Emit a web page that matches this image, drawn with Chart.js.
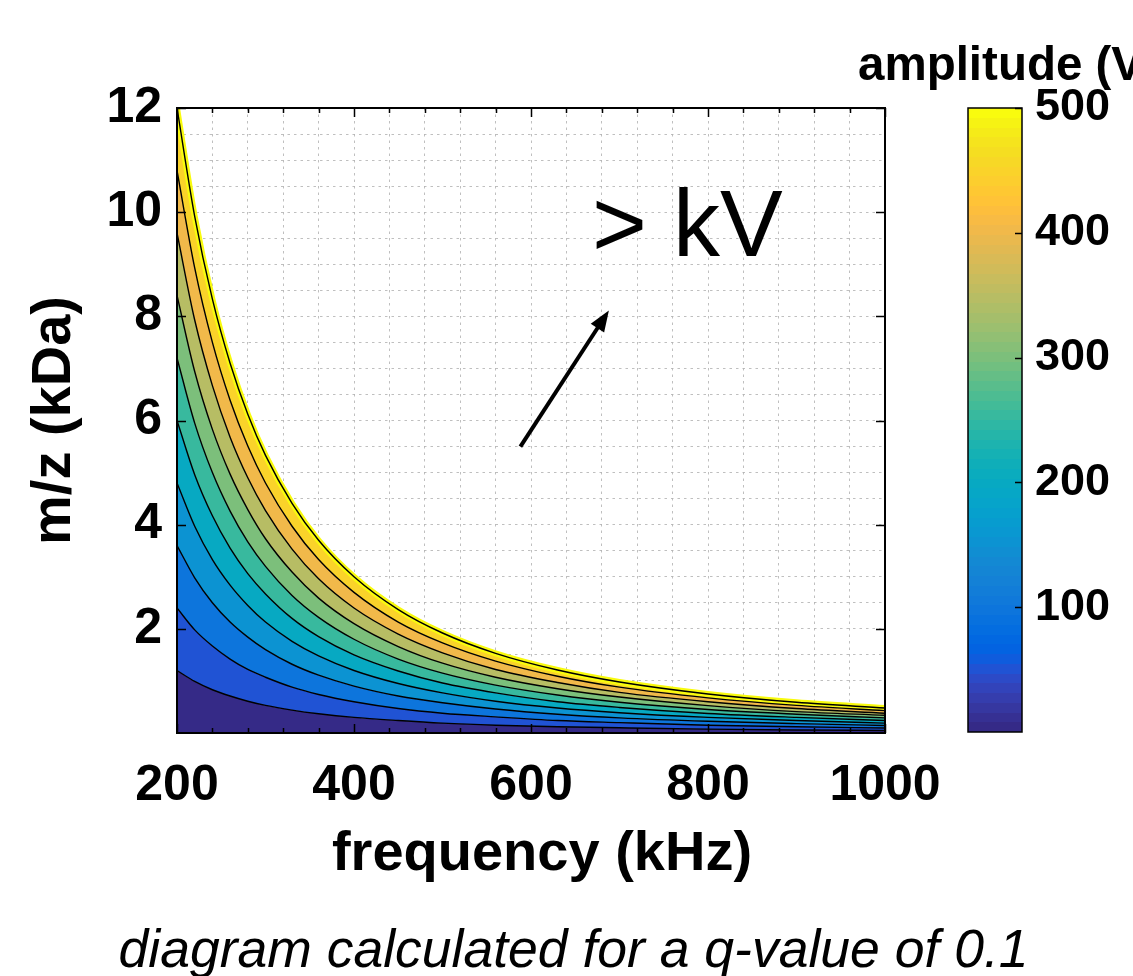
<!DOCTYPE html>
<html><head><meta charset="utf-8">
<script src="https://cdn.jsdelivr.net/npm/chart.js@4.4.1/dist/chart.umd.min.js"></script>
<style>
html,body{margin:0;padding:0;background:#fff;}
#wrap{position:relative;width:1133px;height:976px;overflow:hidden;background:#fff;}
#main{position:absolute;left:0;top:0;}
#cbar{position:absolute;left:840px;top:0;}
</style></head><body>
<div id="wrap"><canvas id="main" width="1133" height="976"></canvas><canvas id="cbar" width="293" height="976"></canvas></div>
<script>
// ---------------- data ----------------
const frequencies = [200, 220, 240, 260, 280, 300, 330, 360, 400, 450, 500, 560, 630, 700, 800, 900, 1000]; // kHz
const contourLevels = [50, 100, 150, 200, 250, 300, 350, 400, 450, 500]; // V
const mz50V  = [1.20, 0.99, 0.83, 0.71, 0.61, 0.53, 0.44, 0.37, 0.30, 0.24, 0.19, 0.15, 0.12, 0.10, 0.075, 0.059, 0.048];
const mz100V = [2.40, 1.98, 1.67, 1.42, 1.22, 1.07, 0.88, 0.74, 0.60, 0.47, 0.38, 0.31, 0.24, 0.20, 0.15, 0.12, 0.096];
const mz150V = [3.60, 2.98, 2.50, 2.13, 1.84, 1.60, 1.32, 1.11, 0.90, 0.71, 0.58, 0.46, 0.36, 0.29, 0.225, 0.18, 0.144];
const mz200V = [4.80, 3.97, 3.33, 2.84, 2.45, 2.13, 1.76, 1.48, 1.20, 0.95, 0.77, 0.61, 0.48, 0.39, 0.30, 0.24, 0.19];
const mz250V = [6.00, 4.96, 4.17, 3.55, 3.06, 2.67, 2.20, 1.85, 1.50, 1.19, 0.96, 0.77, 0.60, 0.49, 0.375, 0.30, 0.24];
const mz300V = [7.20, 5.95, 5.00, 4.26, 3.67, 3.20, 2.64, 2.22, 1.80, 1.42, 1.15, 0.92, 0.73, 0.59, 0.45, 0.36, 0.29];
const mz350V = [8.40, 6.94, 5.83, 4.97, 4.29, 3.73, 3.09, 2.59, 2.10, 1.66, 1.34, 1.07, 0.85, 0.69, 0.525, 0.41, 0.34];
const mz400V = [9.60, 7.93, 6.67, 5.68, 4.90, 4.27, 3.53, 2.96, 2.40, 1.90, 1.54, 1.22, 0.97, 0.78, 0.60, 0.47, 0.38];
const mz450V = [10.80, 8.93, 7.50, 6.39, 5.51, 4.80, 3.97, 3.33, 2.70, 2.13, 1.73, 1.38, 1.09, 0.88, 0.675, 0.53, 0.43];
const mz500V = [12.00, 9.92, 8.33, 7.10, 6.12, 5.33, 4.41, 3.70, 3.00, 2.37, 1.92, 1.53, 1.21, 0.98, 0.75, 0.59, 0.48];
const contourLines = [mz50V, mz100V, mz150V, mz200V, mz250V, mz300V, mz350V, mz400V, mz450V, mz500V];

const xTickLabels = [200, 400, 600, 800, 1000];
const yTickLabels = [2, 4, 6, 8, 10, 12];
const colorbarRange = [0, 500];
const colorbarTicks = [100, 200, 300, 400, 500];

const xTitle = 'frequency (kHz)';
const yTitle = 'm/z (kDa)';
const colorbarTitle = 'amplitude (V';
const noteText = '> kV';
const captionText = 'diagram calculated for a q-value of 0.1';

// annotation placement in data coordinates
const noteAt = {x: 669, y: 9.15};
const arrowFrom = {x: 588, y: 5.50};
const arrowTo = {x: 688, y: 8.11};

// ---------------- styles ----------------
const parula = [
[0.2081,0.1663,0.5292],[0.2116,0.1898,0.5777],[0.2123,0.2138,0.6270],[0.2081,0.2386,0.6771],
[0.1959,0.2645,0.7279],[0.1707,0.2919,0.7792],[0.1253,0.3242,0.8303],[0.0591,0.3598,0.8683],
[0.0117,0.3875,0.8820],[0.0060,0.4086,0.8828],[0.0165,0.4266,0.8786],[0.0329,0.4430,0.8720],
[0.0498,0.4586,0.8641],[0.0629,0.4737,0.8554],[0.0723,0.4887,0.8467],[0.0779,0.5040,0.8384],
[0.0793,0.5200,0.8312],[0.0749,0.5375,0.8263],[0.0641,0.5570,0.8240],[0.0488,0.5772,0.8228],
[0.0343,0.5966,0.8199],[0.0265,0.6137,0.8135],[0.0239,0.6287,0.8038],[0.0231,0.6418,0.7913],
[0.0228,0.6535,0.7768],[0.0267,0.6642,0.7607],[0.0384,0.6743,0.7436],[0.0590,0.6838,0.7254],
[0.0843,0.6928,0.7062],[0.1133,0.7015,0.6859],[0.1453,0.7098,0.6646],[0.1801,0.7177,0.6424],
[0.2178,0.7250,0.6193],[0.2586,0.7317,0.5954],[0.3022,0.7376,0.5712],[0.3482,0.7424,0.5473],
[0.3953,0.7459,0.5244],[0.4420,0.7481,0.5033],[0.4871,0.7491,0.4840],[0.5300,0.7491,0.4661],
[0.5709,0.7485,0.4494],[0.6099,0.7473,0.4337],[0.6473,0.7456,0.4188],[0.6834,0.7435,0.4044],
[0.7184,0.7411,0.3905],[0.7525,0.7384,0.3768],[0.7858,0.7356,0.3633],[0.8185,0.7327,0.3498],
[0.8507,0.7299,0.3360],[0.8824,0.7274,0.3217],[0.9139,0.7258,0.3063],[0.9450,0.7261,0.2886],
[0.9739,0.7314,0.2666],[0.9938,0.7455,0.2403],[0.9990,0.7653,0.2164],[0.9955,0.7861,0.1967],
[0.9880,0.8066,0.1794],[0.9789,0.8271,0.1633],[0.9697,0.8481,0.1475],[0.9626,0.8705,0.1309],
[0.9589,0.8949,0.1132],[0.9598,0.9218,0.0948],[0.9661,0.9514,0.0755],[0.9763,0.9831,0.0538]];
const rgb = c => `rgb(${Math.round(c[0]*255)},${Math.round(c[1]*255)},${Math.round(c[2]*255)})`;
const colorFor = v => {
  const t = (v - colorbarRange[0]) / (colorbarRange[1] - colorbarRange[0]);
  const i = Math.max(0, Math.min(parula.length - 1, Math.floor(t * parula.length)));
  return rgb(parula[i]);
};
const FONT = "'Liberation Sans', Arial, Helvetica, sans-serif";
const GRID = 'rgba(180,180,180,0.85)';

// ---------------- main contour chart ----------------
const bandDatasets = contourLines.map((arr, k) => ({
  data: frequencies.map((f, i) => ({x: f, y: arr[i]})),
  borderColor: '#000',
  borderWidth: 1.4,
  backgroundColor: colorFor(k === 0 ? 0 : contourLevels[k - 1]),
  fill: k === 0 ? 'origin' : '-1',
  pointRadius: 0,
  cubicInterpolationMode: 'monotone',
  clip: 0,
  order: 0
}));
// thin saturated edge just past the top contour
bandDatasets.push({
  data: frequencies.map((f, i) => ({x: f, y: mz500V[i]})),
  borderColor: rgb(parula[parula.length - 1]),
  borderWidth: 6,
  fill: false,
  pointRadius: 0,
  cubicInterpolationMode: 'monotone',
  clip: 0,
  order: 1
});

const mainDecor = {
  id: 'mainDecor',
  afterDraw(chart) {
    const {ctx, chartArea: a, scales: {x, y}} = chart;
    ctx.save();
    // inner tick marks
    ctx.strokeStyle = '#000';
    ctx.lineWidth = 1.5;
    ctx.beginPath();
    x.ticks.forEach(t => {
      const px = Math.round(x.getPixelForValue(t.value)) + 0.5;
      const len = xTickLabels.includes(Math.round(t.value)) ? 9 : 5;
      ctx.moveTo(px, a.bottom); ctx.lineTo(px, a.bottom - len);
      ctx.moveTo(px, a.top); ctx.lineTo(px, a.top + len);
    });
    yTickLabels.forEach(v => {
      const py = Math.round(y.getPixelForValue(v)) + 0.5;
      ctx.moveTo(a.left, py); ctx.lineTo(a.left + 9, py);
      ctx.moveTo(a.right, py); ctx.lineTo(a.right - 9, py);
    });
    ctx.stroke();
    // frame
    ctx.lineWidth = 2;
    ctx.strokeRect(a.left, a.top, a.right - a.left, a.bottom - a.top);
    // arrow
    const x1 = x.getPixelForValue(arrowFrom.x), y1 = y.getPixelForValue(arrowFrom.y);
    const x2 = x.getPixelForValue(arrowTo.x), y2 = y.getPixelForValue(arrowTo.y);
    const ang = Math.atan2(y2 - y1, x2 - x1);
    const hl = 21, hw = 8;
    const bx = x2 - hl * Math.cos(ang), by = y2 - hl * Math.sin(ang);
    ctx.lineWidth = 4;
    ctx.lineCap = 'butt';
    ctx.beginPath(); ctx.moveTo(x1, y1); ctx.lineTo(bx + 2*Math.cos(ang), by + 2*Math.sin(ang)); ctx.stroke();
    ctx.fillStyle = '#000';
    ctx.beginPath();
    ctx.moveTo(x2, y2);
    ctx.lineTo(bx + hw * Math.sin(ang), by - hw * Math.cos(ang));
    ctx.lineTo(bx - hw * Math.sin(ang), by + hw * Math.cos(ang));
    ctx.closePath(); ctx.fill();
    // note text
    ctx.font = `94px ${FONT}`;
    ctx.textAlign = 'left';
    ctx.textBaseline = 'alphabetic';
    ctx.fillText(noteText, x.getPixelForValue(noteAt.x), y.getPixelForValue(noteAt.y));
    // x-axis title
    ctx.font = `bold 56px ${FONT}`;
    ctx.textAlign = 'center';
    ctx.textBaseline = 'middle';
    ctx.fillText(xTitle, 542, 855);
    // caption
    ctx.font = `italic 53.5px ${FONT}`;
    ctx.textAlign = 'center';
    ctx.textBaseline = 'alphabetic';
    ctx.fillText(captionText, 573.5, 967);
    ctx.restore();
  }
};

new Chart(document.getElementById('main'), {
  type: 'line',
  data: {datasets: bandDatasets},
  options: {
    responsive: false,
    animation: false,
    events: [],
    layout: {padding: {left: 0, top: 108, right: 248, bottom: 83}},
    plugins: {legend: {display: false}, tooltip: {enabled: false}, filler: {drawTime: 'beforeDatasetsDraw'}},
    scales: {
      x: {
        type: 'linear', position: 'bottom', min: 200, max: 1000, z: 1,
        afterFit: s => { s.height = 160; },
        grid: {color: GRID, lineWidth: 1, drawTicks: false},
        border: {display: false, dash: [2.5, 4]},
        ticks: {
          stepSize: 40, autoSkip: false, maxRotation: 0, padding: 23, color: '#000',
          font: {family: FONT, size: 50, weight: 'bold'},
          callback: v => xTickLabels.includes(Math.round(v)) && Math.abs(v - Math.round(v)) < 1e-6 ? String(Math.round(v)) : ''
        },
        title: {display: false, text: xTitle}
      },
      y: {
        type: 'linear', position: 'left', min: 0, max: 12, z: 1,
        afterFit: s => { s.width = 177; },
        grid: {color: GRID, lineWidth: 1, drawTicks: false},
        border: {display: false, dash: [2.5, 4]},
        ticks: {
          stepSize: 0.5, autoSkip: false, padding: 15, color: '#000',
          font: {family: FONT, size: 50, weight: 'bold'},
          callback: v => yTickLabels.includes(v) ? String(v) : ''
        },
        title: {display: true, text: yTitle, color: '#000', font: {family: FONT, size: 56, weight: 'bold'}, padding: {top: 21, bottom: 0}}
      }
    }
  },
  plugins: [mainDecor]
});

// ---------------- colorbar ----------------
const cbarDecor = {
  id: 'cbarDecor',
  afterDraw(chart) {
    const {ctx, chartArea: a, scales: {y}} = chart;
    ctx.save();
    ctx.strokeStyle = '#000';
    ctx.lineWidth = 1.5;
    ctx.beginPath();
    colorbarTicks.forEach(v => {
      const py = Math.round(y.getPixelForValue(v)) + 0.5;
      ctx.moveTo(a.right, py); ctx.lineTo(a.right - 7, py);
    });
    ctx.stroke();
    ctx.strokeRect(a.left, a.top, a.right - a.left, a.bottom - a.top);
    ctx.fillStyle = '#000';
    ctx.font = `bold 47.5px ${FONT}`;
    ctx.textAlign = 'left';
    ctx.textBaseline = 'alphabetic';
    ctx.fillText(colorbarTitle, 18, 80);
    ctx.restore();
  }
};

new Chart(document.getElementById('cbar'), {
  type: 'bar',
  data: {
    labels: [''],
    datasets: [{
      data: [colorbarRange],
      borderWidth: 0,
      barPercentage: 1,
      categoryPercentage: 1,
      backgroundColor: c => {
        const a = c.chart.chartArea;
        if (!a) return 'transparent';
        const g = c.chart.ctx.createLinearGradient(0, a.bottom, 0, a.top);
        parula.forEach((col, i) => {
          g.addColorStop(i / parula.length, rgb(col));
          g.addColorStop((i + 1) / parula.length, rgb(col));
        });
        return g;
      }
    }]
  },
  options: {
    responsive: false,
    animation: false,
    events: [],
    layout: {padding: {left: 128, top: 108, right: 0, bottom: 244}},
    plugins: {legend: {display: false}, tooltip: {enabled: false}},
    scales: {
      x: {display: false},
      y: {
        position: 'right', min: colorbarRange[0], max: colorbarRange[1],
        afterFit: s => { s.width = 111; },
        grid: {display: false},
        border: {display: false},
        ticks: {
          stepSize: 100, padding: 5, color: '#000',
          font: {family: FONT, size: 45, weight: 'bold'},
          callback: v => colorbarTicks.includes(v) ? String(v) : ''
        }
      }
    }
  },
  plugins: [cbarDecor]
});
</script>
</body></html>
